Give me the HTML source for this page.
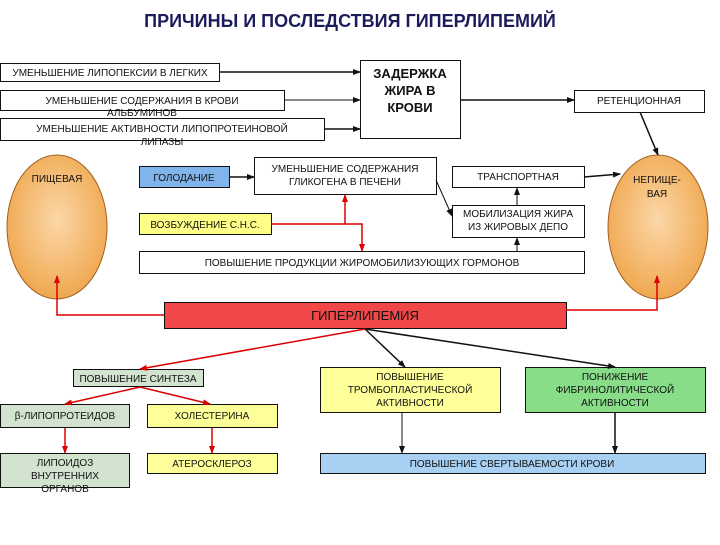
<!DOCTYPE html>
<html><head><meta charset="utf-8"><style>
body{margin:0;background:#fff}
svg text{font-family:"Liberation Sans",sans-serif;font-size:10px;fill:#111}
</style></head><body>
<svg width="720" height="540" viewBox="0 0 720 540" xmlns="http://www.w3.org/2000/svg">
<defs>
<marker id="ab" markerWidth="8" markerHeight="8" refX="7" refY="4" orient="auto" markerUnits="userSpaceOnUse"><path d="M0,1 L8,4 L0,7 Z" fill="#111"/></marker>
<marker id="ar" markerWidth="8" markerHeight="8" refX="7" refY="4" orient="auto" markerUnits="userSpaceOnUse"><path d="M0,1 L8,4 L0,7 Z" fill="#d00"/></marker>
<radialGradient id="g" cx="50%" cy="45%" r="55%"><stop offset="0" stop-color="#fbd7a8"/><stop offset="1" stop-color="#f0a850"/></radialGradient>
</defs>
<text x="350" y="27" text-anchor="middle" style="font-size:18px;font-weight:bold;fill:#1c1c5c">ПРИЧИНЫ И ПОСЛЕДСТВИЯ ГИПЕРЛИПЕМИЙ</text>
<g stroke="#111" fill="#fff">
<rect x="0.5" y="63.5" width="219" height="18"/>
<rect x="0.5" y="90.5" width="284" height="20"/>
<rect x="0.5" y="118.5" width="324" height="22"/>
<rect x="360.5" y="60.5" width="100" height="78"/>
<rect x="574.5" y="90.5" width="130" height="22"/>
<rect x="139.5" y="166.5" width="90" height="21" fill="#80b4ea"/>
<rect x="254.5" y="157.5" width="182" height="37"/>
<rect x="452.5" y="166.5" width="132" height="21"/>
<rect x="452.5" y="205.5" width="132" height="32"/>
<rect x="139.5" y="213.5" width="132" height="21" fill="#ffff88"/>
<rect x="139.5" y="251.5" width="445" height="22"/>
<rect x="164.5" y="302.5" width="402" height="26" fill="#f04848"/>
<rect x="73.5" y="369.5" width="130" height="17" fill="#d2e4d0"/>
<rect x="0.5" y="404.5" width="129" height="23" fill="#d2e4d0"/>
<rect x="147.5" y="404.5" width="130" height="23" fill="#ffff99"/>
<rect x="0.5" y="453.5" width="129" height="34" fill="#d2e4d0"/>
<rect x="147.5" y="453.5" width="130" height="20" fill="#ffff99"/>
<rect x="320.5" y="367.5" width="180" height="45" fill="#ffff99"/>
<rect x="525.5" y="367.5" width="180" height="45" fill="#88dd88"/>
<rect x="320.5" y="453.5" width="385" height="20" fill="#a8d0f2"/>
</g>
<ellipse cx="57" cy="227" rx="50" ry="72" fill="url(#g)" stroke="#a06020"/>
<ellipse cx="658" cy="227" rx="50" ry="72" fill="url(#g)" stroke="#a06020"/>
<g stroke="#111" fill="none" marker-end="url(#ab)">
<line x1="219" y1="72" x2="360" y2="72" stroke-width="1.5"/>
<line x1="284" y1="100" x2="360" y2="100"/>
<line x1="324" y1="129" x2="360" y2="129" stroke-width="1.5"/>
<line x1="460" y1="100" x2="574" y2="100" stroke-width="1.5"/>
<line x1="640" y1="112" x2="658" y2="155" stroke-width="1.5"/>
<line x1="229" y1="177" x2="254" y2="177" stroke-width="1.5"/>
<line x1="584" y1="177" x2="620" y2="174" stroke-width="1.5"/>
<line x1="436" y1="180" x2="452" y2="216"/>
<line x1="517" y1="205" x2="517" y2="188"/>
<line x1="517" y1="251" x2="517" y2="238"/>
<line x1="365" y1="329" x2="405" y2="367" stroke-width="1.5"/>
<line x1="365" y1="329" x2="615" y2="367" stroke-width="1.5"/>
<line x1="402" y1="412" x2="402" y2="453"/>
<line x1="615" y1="412" x2="615" y2="453" stroke-width="1.5"/>
</g>
<g stroke="#d00" fill="none" stroke-width="1.5" marker-end="url(#ar)">
<polyline points="271,224 345,224 345,195"/>
<polyline points="345,224 362,224 362,251"/>
<polyline points="164,315 57,315 57,276"/>
<polyline points="566,310 657,310 657,276"/>
<line x1="365" y1="329" x2="140" y2="369"/>
<line x1="140" y1="387" x2="65" y2="404"/>
<line x1="140" y1="387" x2="210" y2="404"/>
<line x1="65" y1="428" x2="65" y2="453"/>
<line x1="212" y1="428" x2="212" y2="453"/>
</g>
<g text-anchor="middle">
<text x="110" y="76">УМЕНЬШЕНИЕ ЛИПОПЕКСИИ В ЛЕГКИХ</text>
<text x="142" y="104">УМЕНЬШЕНИЕ СОДЕРЖАНИЯ В КРОВИ</text>
<text x="142" y="116">АЛЬБУМИНОВ</text>
<text x="162" y="132">УМЕНЬШЕНИЕ АКТИВНОСТИ ЛИПОПРОТЕИНОВОЙ</text>
<text x="162" y="145">ЛИПАЗЫ</text>
<text x="410" y="78" style="font-size:13px;font-weight:bold">ЗАДЕРЖКА</text>
<text x="410" y="95" style="font-size:13px;font-weight:bold">ЖИРА В</text>
<text x="410" y="112" style="font-size:13px;font-weight:bold">КРОВИ</text>
<text x="639" y="104">РЕТЕНЦИОННАЯ</text>
<text x="57" y="182">ПИЩЕВАЯ</text>
<text x="657" y="183">НЕПИЩЕ-</text>
<text x="657" y="197">ВАЯ</text>
<text x="184" y="181">ГОЛОДАНИЕ</text>
<text x="345" y="172">УМЕНЬШЕНИЕ СОДЕРЖАНИЯ</text>
<text x="345" y="185">ГЛИКОГЕНА В ПЕЧЕНИ</text>
<text x="518" y="180">ТРАНСПОРТНАЯ</text>
<text x="518" y="217">МОБИЛИЗАЦИЯ ЖИРА</text>
<text x="518" y="230">ИЗ ЖИРОВЫХ ДЕПО</text>
<text x="205" y="228">ВОЗБУЖДЕНИЕ С.Н.С.</text>
<text x="362" y="266">ПОВЫШЕНИЕ ПРОДУКЦИИ ЖИРОМОБИЛИЗУЮЩИХ ГОРМОНОВ</text>
<text x="365" y="320" style="font-size:13px">ГИПЕРЛИПЕМИЯ</text>
<text x="138" y="382">ПОВЫШЕНИЕ СИНТЕЗА</text>
<text x="65" y="419">β-ЛИПОПРОТЕИДОВ</text>
<text x="212" y="419">ХОЛЕСТЕРИНА</text>
<text x="65" y="466">ЛИПОИДОЗ</text>
<text x="65" y="479">ВНУТРЕННИХ</text>
<text x="65" y="492">ОРГАНОВ</text>
<text x="212" y="467">АТЕРОСКЛЕРОЗ</text>
<text x="410" y="380">ПОВЫШЕНИЕ</text>
<text x="410" y="393">ТРОМБОПЛАСТИЧЕСКОЙ</text>
<text x="410" y="406">АКТИВНОСТИ</text>
<text x="615" y="380">ПОНИЖЕНИЕ</text>
<text x="615" y="393">ФИБРИНОЛИТИЧЕСКОЙ</text>
<text x="615" y="406">АКТИВНОСТИ</text>
<text x="512" y="467">ПОВЫШЕНИЕ СВЕРТЫВАЕМОСТИ КРОВИ</text>
</g>
</svg>
</body></html>
